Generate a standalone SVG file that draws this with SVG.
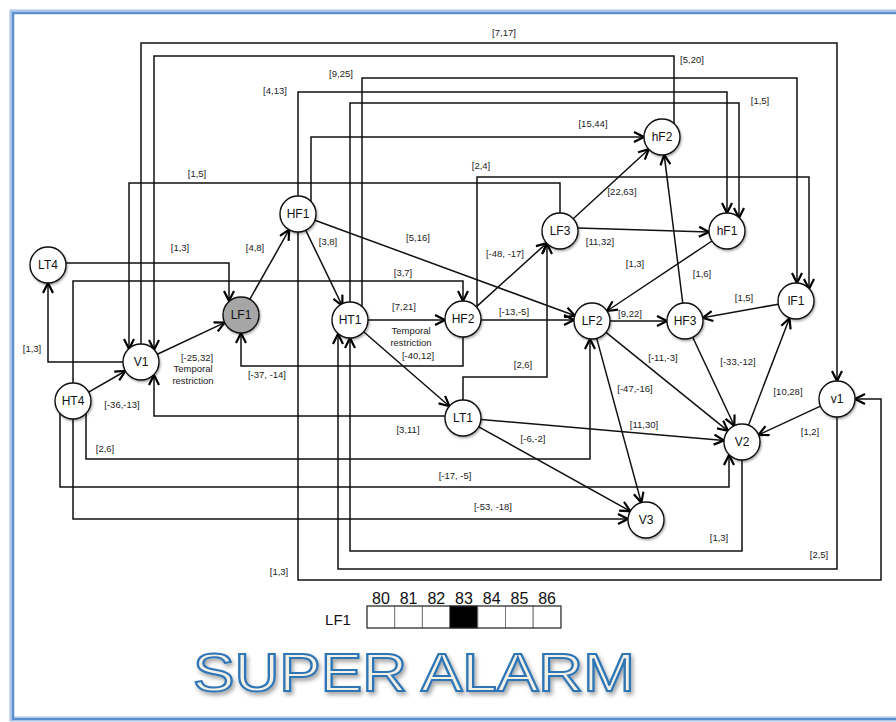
<svg xmlns="http://www.w3.org/2000/svg" width="896" height="722" viewBox="0 0 896 722">
<defs>
<marker id="arr" viewBox="0 0 12 12" refX="11" refY="6" markerWidth="12" markerHeight="12" markerUnits="userSpaceOnUse" orient="auto"><path d="M1,1 L11,6 L1,11" fill="none" stroke="#000" stroke-width="2.2"/></marker>
<filter id="sh" x="-30%" y="-30%" width="160%" height="160%"><feDropShadow dx="1" dy="1.5" stdDeviation="1" flood-color="#000" flood-opacity="0.35"/></filter>
<filter id="tsh" x="-10%" y="-20%" width="120%" height="150%"><feDropShadow dx="2" dy="3" stdDeviation="2" flood-color="#000" flood-opacity="0.35"/></filter>
<style>
.c{fill:none;stroke:#111;stroke-width:1.5}
.a{marker-end:url(#arr)}
.n{fill:#fff;stroke:#111;stroke-width:1.4;filter:url(#sh)}
.nt{font-family:"Liberation Sans",Arial,sans-serif;font-size:12px;text-anchor:middle;fill:#111}
.l{font-family:"Liberation Sans",Arial,sans-serif;font-size:9.5px;text-anchor:middle;fill:#222}
.num{font-family:"Liberation Sans",Arial,sans-serif;font-size:16px;text-anchor:middle;fill:#111}
.cell{fill:#fff;stroke:#777;stroke-width:1}
</style>
</defs>
<rect x="0" y="0" width="896" height="722" fill="#fff"/>
<rect x="12" y="12" width="900" height="707" fill="none" stroke="#a9c4e6" stroke-width="5"/>
<rect x="13" y="13" width="900" height="706" fill="none" stroke="#5b8ecf" stroke-width="2"/>

<g id="connectors">
<!-- straight -->
<line class="c a" x1="157.3" y1="354.3" x2="224.7" y2="322.6"/>
<line class="c a" x1="88.6" y1="392.1" x2="125.4" y2="371"/>
<line class="c a" x1="249.8" y1="299.3" x2="289.2" y2="229.7"/>
<line class="c a" x1="305.7" y1="230.2" x2="342.3" y2="305.8"/>
<line class="c a" x1="314.9" y1="220.2" x2="575.1" y2="315.8"/>
<line class="c a" x1="368" y1="320" x2="445" y2="320"/>
<line class="c a" x1="363.6" y1="331.8" x2="449.4" y2="406.2"/>
<line class="c a" x1="476.3" y1="306.9" x2="546.7" y2="243.1"/>
<line class="c a" x1="481" y1="320" x2="574" y2="320"/>
<line class="c a" x1="573.2" y1="218.8" x2="648.8" y2="149.2"/>
<line class="c a" x1="578" y1="228" x2="709" y2="232"/>
<line class="c a" x1="712" y1="241" x2="607" y2="311"/>
<line class="c a" x1="682.8" y1="303.1" x2="664.2" y2="154.9"/>
<line class="c a" x1="610" y1="321" x2="667" y2="321"/>
<line class="c a" x1="778.3" y1="304.2" x2="702.7" y2="317.8"/>
<line class="c a" x1="606" y1="332.3" x2="727.9" y2="430.8"/>
<line class="c a" x1="692.7" y1="337.3" x2="734.3" y2="425.7"/>
<line class="c a" x1="748.5" y1="425.2" x2="789.5" y2="318.2"/>
<line class="c a" x1="820.5" y1="406.1" x2="758.5" y2="434.9"/>
<line class="c a" x1="481" y1="419.5" x2="724" y2="440.5"/>
<line class="c a" x1="478.7" y1="426.8" x2="630.3" y2="511.2"/>
<line class="c a" x1="596.7" y1="338.4" x2="641.3" y2="502.6"/>
<!-- orthogonal -->
<path class="c a" d="M66,263 H229 V301"/>
<path class="c a" d="M123,362 H48 V283"/>
<path class="c a" d="M463,337 V366 H241 V333"/>
<path class="c a" d="M445,416 H154 V375"/>
<path class="c a" d="M86,413 V459 H590 V339"/>
<path class="c a" d="M60,413 V487 H729 V455"/>
<path class="c a" d="M73,419 V519 H628"/>
<path class="c a" d="M73,383 V281 H463 V301"/>
<path class="c a" d="M742,460 V551 H350 V338"/>
<path class="c a" d="M837,417 V569 H338 V334"/>
<path class="c a" d="M298,232 V580 H881 V399 H855"/>
<path class="c a" d="M141,344 V43 H837 V381"/>
<path class="c a" d="M674,124 V56 H154 V350"/>
<path class="c a" d="M560,213 V183 H129 V349"/>
<path class="c a" d="M298,196 V92 H727 V213"/>
<path class="c a" d="M362,307 V78 H797 V283"/>
<path class="c a" d="M477,308 V177 H809 V289"/>
<path class="c a" d="M350,302 V103 H739 V218"/>
<path class="c a" d="M311,202 V137 H644"/>
<path class="c a" d="M463,400 V377 H547 V244"/>
</g>

<g id="edge-labels">
<text class="l" x="504" y="36">[7,17]</text>
<text class="l" x="692" y="63">[5,20]</text>
<text class="l" x="341" y="77">[9,25]</text>
<text class="l" x="275" y="94">[4,13]</text>
<text class="l" x="760" y="104">[1,5]</text>
<text class="l" x="593" y="127">[15,44]</text>
<text class="l" x="481" y="169">[2,4]</text>
<text class="l" x="197" y="177">[1,5]</text>
<text class="l" x="622" y="195">[22,63]</text>
<text class="l" x="600" y="245">[11,32]</text>
<text class="l" x="180" y="251">[1,3]</text>
<text class="l" x="255" y="251">[4,8]</text>
<text class="l" x="328" y="245">[3,8]</text>
<text class="l" x="418" y="241">[5,16]</text>
<text class="l" x="505" y="257">[-48, -17]</text>
<text class="l" x="403" y="276">[3,7]</text>
<text class="l" x="404" y="310">[7,21]</text>
<text class="l" x="514" y="315">[-13,-5]</text>
<text class="l" x="411" y="334">Temporal</text>
<text class="l" x="411" y="346">restriction</text>
<text class="l" x="418" y="359">[-40,12]</text>
<text class="l" x="523" y="368">[2,6]</text>
<text class="l" x="408" y="433">[3,11]</text>
<text class="l" x="533" y="442">[-6,-2]</text>
<text class="l" x="32" y="352">[1,3]</text>
<text class="l" x="197" y="361">[-25,32]</text>
<text class="l" x="193" y="372">Temporal</text>
<text class="l" x="193" y="384">restriction</text>
<text class="l" x="267" y="378">[-37, -14]</text>
<text class="l" x="122" y="408">[-36,-13]</text>
<text class="l" x="105" y="452">[2,6]</text>
<text class="l" x="279" y="575">[1,3]</text>
<text class="l" x="455" y="479">[-17, -5]</text>
<text class="l" x="493" y="510">[-53, -18]</text>
<text class="l" x="719" y="541">[1,3]</text>
<text class="l" x="819" y="558">[2,5]</text>
<text class="l" x="635" y="267">[1,3]</text>
<text class="l" x="702" y="277">[1,6]</text>
<text class="l" x="744" y="301">[1,5]</text>
<text class="l" x="630" y="317">[9,22]</text>
<text class="l" x="663" y="361">[-11,-3]</text>
<text class="l" x="738" y="365">[-33,-12]</text>
<text class="l" x="635" y="392">[-47,-16]</text>
<text class="l" x="788" y="395">[10,28]</text>
<text class="l" x="644" y="428">[11,30]</text>
<text class="l" x="810" y="435">[1,2]</text>
</g>

<g id="node-LT4"><circle class="n" cx="48" cy="265" r="18"/><text class="nt" x="48" y="269">LT4</text></g>
<g id="node-LF1"><circle class="n" cx="241" cy="315" r="18" style="fill:#a6a6a6"/><text class="nt" x="241" y="319">LF1</text></g>
<g id="node-V1"><circle class="n" cx="141" cy="362" r="18"/><text class="nt" x="141" y="366">V1</text></g>
<g id="node-HT4"><circle class="n" cx="73" cy="401" r="18"/><text class="nt" x="73" y="405">HT4</text></g>
<g id="node-HF1"><circle class="n" cx="298" cy="214" r="18"/><text class="nt" x="298" y="218">HF1</text></g>
<g id="node-HT1"><circle class="n" cx="350" cy="320" r="18"/><text class="nt" x="350" y="324">HT1</text></g>
<g id="node-HF2"><circle class="n" cx="463" cy="319" r="18"/><text class="nt" x="463" y="323">HF2</text></g>
<g id="node-LF3"><circle class="n" cx="560" cy="231" r="18"/><text class="nt" x="560" y="235">LF3</text></g>
<g id="node-LF2"><circle class="n" cx="592" cy="321" r="18"/><text class="nt" x="592" y="325">LF2</text></g>
<g id="node-hF2"><circle class="n" cx="662" cy="137" r="18"/><text class="nt" x="662" y="141">hF2</text></g>
<g id="node-hF1"><circle class="n" cx="727" cy="231" r="18"/><text class="nt" x="727" y="235">hF1</text></g>
<g id="node-HF3"><circle class="n" cx="685" cy="321" r="18"/><text class="nt" x="685" y="325">HF3</text></g>
<g id="node-lF1"><circle class="n" cx="796" cy="301" r="18"/><text class="nt" x="796" y="305">lF1</text></g>
<g id="node-v1"><circle class="n" cx="837" cy="399" r="18"/><text class="nt" x="837" y="403">v1</text></g>
<g id="node-V2"><circle class="n" cx="742" cy="442" r="18"/><text class="nt" x="742" y="446">V2</text></g>
<g id="node-LT1"><circle class="n" cx="463" cy="418" r="18"/><text class="nt" x="463" y="422">LT1</text></g>
<g id="node-V3"><circle class="n" cx="646" cy="520" r="18"/><text class="nt" x="646" y="524">V3</text></g>

<g id="timeline">
<text class="num" x="338" y="625" style="font-size:15px">LF1</text>
<text class="num" x="380.9" y="604">80</text>
<text class="num" x="408.6" y="604">81</text>
<text class="num" x="436.3" y="604">82</text>
<text class="num" x="464" y="604">83</text>
<text class="num" x="491.7" y="604">84</text>
<text class="num" x="519.4" y="604">85</text>
<text class="num" x="547.1" y="604">86</text>
<rect class="cell" x="367" y="606" width="27.7" height="22"/>
<rect class="cell" x="394.7" y="606" width="27.7" height="22"/>
<rect class="cell" x="422.4" y="606" width="27.7" height="22"/>
<rect x="450.1" y="606" width="27.7" height="22" fill="#000" stroke="#000"/>
<rect class="cell" x="477.8" y="606" width="27.7" height="22"/>
<rect class="cell" x="505.5" y="606" width="27.7" height="22"/>
<rect class="cell" x="533.2" y="606" width="27.7" height="22"/>
<rect x="367" y="606" width="194" height="22" fill="none" stroke="#333" stroke-width="1"/>
</g>

<g id="title">
<text x="193" y="691" textLength="442" lengthAdjust="spacingAndGlyphs" style="font-family:'Liberation Sans',Arial,sans-serif;font-size:53px;fill:#f3f1e6;stroke:#2e75b6;stroke-width:2;filter:url(#tsh)">SUPER ALARM</text>
</g>
</svg>
